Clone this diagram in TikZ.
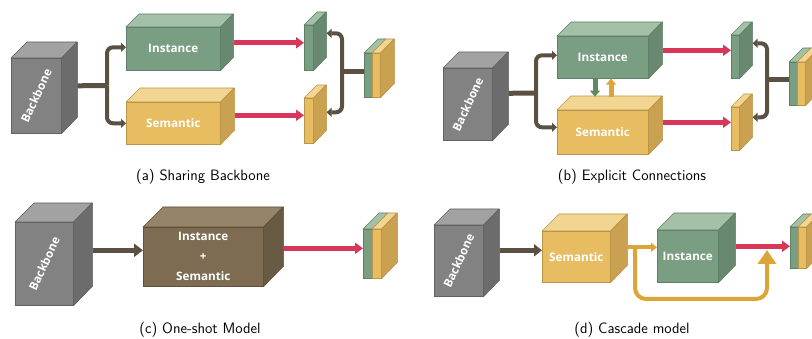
\documentclass[tikz,border=0pt]{standalone}
\usepackage{fontspec}
\newfontfamily\boxfont{Open Sans}
\usetikzlibrary{arrows.meta,calc}
\definecolor{bbF}{HTML}{828282}\definecolor{bbT}{HTML}{A2A2A2}\definecolor{bbS}{HTML}{6C6C6C}\definecolor{bbE}{HTML}{626262}
\definecolor{gnF}{HTML}{7A9E82}\definecolor{gnT}{HTML}{A4C1A8}\definecolor{gnS}{HTML}{68896F}\definecolor{gnE}{HTML}{5F7F66}
\definecolor{ylF}{HTML}{E8BD62}\definecolor{ylT}{HTML}{F1D590}\definecolor{ylS}{HTML}{C9A150}\definecolor{ylE}{HTML}{BB9547}
\definecolor{brF}{HTML}{7D6C52}\definecolor{brT}{HTML}{958468}\definecolor{brS}{HTML}{695A44}\definecolor{brE}{HTML}{5E503C}
\definecolor{redA}{HTML}{D8375A}
\definecolor{dkC}{HTML}{5B5142}
\definecolor{ylC}{HTML}{DBA53A}
\definecolor{gnC}{HTML}{5E8A63}
\newcommand{\cuboid}[8]{%
  \node[draw=#7E, fill=#7F, line width=0.6pt, inner sep=0pt, minimum width=#4pt, minimum height=#5pt, anchor=north west, boxtxt] (#1) at (#2,#3) {#8};
  \filldraw[draw=#7E, fill=#7T, line width=0.6pt, line join=round] (#1.north west) -- ++(#6,-#6) -- ++(#4,0) -- (#1.north east) -- cycle;
  \filldraw[draw=#7E, fill=#7S, line width=0.6pt, line join=round] (#1.north east) -- ++(#6,-#6) -- ++(0,#5) -- (#1.south east) -- cycle;
}
\tikzset{
  boxtxt/.style={text=white, font=\boxfont\bfseries\fontsize{11.7}{20}\selectfont, align=center},
  bbtxt/.style={text=white, font=\boxfont\bfseries\fontsize{11.7}{13}\selectfont, rotate=65},
  captxt/.style={font=\sffamily\fontsize{15}{18}\selectfont, anchor=base},
  dkc/.style={draw=dkC, line width=4pt, rounded corners=6pt},
  dkarr/.style={dkc, -{Triangle[length=5pt,width=9pt]}},
  redarr/.style={draw=redA, line width=5pt, -{Triangle[length=8pt,width=11pt]}},
}
\begin{document}
\begin{tikzpicture}[x=1pt,y=-1pt]
\useasboundingbox (0,0) rectangle (812,339);
% ===== (a) =====
\cuboid{bbA}{11}{58}{50}{75}{16}{bb}{}
\node[bbtxt] (bbAt) at (bbA) {Backbone};
\cuboid{instA}{126}{27}{94}{43}{13}{gn}{Instance}
\cuboid{semA}{126}{102}{94}{42}{14}{yl}{Semantic}
\cuboid{slabIA}{304}{25}{9}{45}{13}{gn}{}
\cuboid{slabSA}{304}{98}{9}{45}{13}{yl}{}
\cuboid{cgA}{364}{53}{8}{44}{14}{gn}{}
\cuboid{cyA}{372}{53}{8}{44}{14}{yl}{}
\coordinate (bbAr) at ($(bbA.east)+(16,-10)$);
\coordinate (jA) at (107,85.5);
\draw[dkc, line width=5pt] (bbAr) -- (jA);
\draw[dkarr] (jA) |- ($(instA.west)+(0,-1.5)$);
\draw[dkarr] (jA) |- (semA.west);
\draw[redarr] ($(instA.east)+(13,-6)$) coordinate (rA1) -- (rA1 -| slabIA.west);
\draw[redarr] ($(semA.east)+(14,-8)$) coordinate (rA2) -- (rA2 -| slabSA.west);
\coordinate (jA2) at (342,72);
\draw[dkc, line width=5pt] (jA2) -- (jA2 -| cgA.west);
\draw[dkarr] (jA2) |- ($(slabIA.east)+(13,-14.5)$);
\draw[dkarr] (jA2) |- ($(slabSA.east)+(13,-8.5)$);
\node[captxt] (capA) at (203,181) {(a) Sharing Backbone};
% ===== (b) =====
\cuboid{bbB}{443}{68}{49}{72}{16}{bb}{}
\node[bbtxt] (bbBt) at (bbB) {Backbone};
\cuboid{semB}{557}{110}{91}{44}{14}{yl}{Semantic}
\cuboid{instB}{557}{36}{91}{42}{14}{gn}{Instance}
\cuboid{slabIB}{731}{35}{8}{43}{13}{gn}{}
\cuboid{slabSB}{731}{107}{8}{43}{13}{yl}{}
\cuboid{cgB}{789}{62}{8}{43}{14}{gn}{}
\cuboid{cyB}{797}{62}{8}{43}{14}{yl}{}
\coordinate (bbBr) at ($(bbB.east)+(16,-11)$);
\coordinate (jB) at (536,93);
\draw[dkc, line width=5pt] (bbBr) -- (jB);
\draw[dkarr] (jB) |- ($(instB.west)+(0,-2)$);
\draw[dkarr] (jB) |- ($(semB.west)+(0,-5)$);
\draw[draw=gnC, line width=5pt, -{Triangle[length=6pt,width=10pt]}] ($(instB.south west)+(38,0)$) coordinate (gB) -- ++(0,18);
\draw[draw=ylC, line width=5pt, -{Triangle[length=6pt,width=10pt]}] ($(instB.south west)+(54,18)$) coordinate (yB) -- ++(0,-18);
\draw[redarr] ($(instB.east)+(14,-7)$) coordinate (rB1) -- (rB1 -| slabIB.west);
\draw[redarr] ($(semB.east)+(14,-10)$) coordinate (rB2) -- (rB2 -| slabSB.west);
\coordinate (jB2) at (767,80);
\draw[dkc, line width=5pt] (jB2) -- (jB2 -| cgB.west);
\draw[dkarr] (jB2) |- ($(slabIB.east)+(13,-13.5)$);
\draw[dkarr] (jB2) |- ($(slabSB.east)+(13,-11.5)$);
\node[captxt] (capB) at (632,181) {(b) Explicit Connections};
% ===== (c) =====
\cuboid{bbC}{15}{222}{58}{83}{19}{bb}{}
\node[bbtxt] (bbCt) at (bbC) {Backbone};
\cuboid{isC}{143}{227}{120}{59}{20}{br}{Instance\\+\\Semantic}
\cuboid{cgC}{363}{229}{9}{49}{16}{gn}{}
\cuboid{cyC}{372}{229}{9}{49}{16}{yl}{}
\draw[draw=dkC, line width=5pt, -{Triangle[length=9pt,width=13pt]}] ($(bbC.east)+(19,-13.5)$) coordinate (dC) -- (dC -| isC.west);
\draw[redarr] ($(isC.east)+(20,-8.5)$) coordinate (rC) -- (rC -| cgC.west);
\node[captxt] (capC) at (200,334) {(c) One-shot Model};
% ===== (d) =====
\cuboid{bbD}{434}{225}{49}{71}{16}{bb}{}
\node[bbtxt] (bbDt) at (bbD) {Backbone};
\cuboid{semD}{542}{231}{68}{51}{17}{yl}{Semantic}
\cuboid{instD}{657}{230}{61}{52}{17}{gn}{Instance}
\cuboid{cgD}{790}{227}{8}{41}{13}{gn}{}
\cuboid{cyD}{798}{227}{8}{41}{13}{yl}{}
\draw[draw=dkC, line width=5pt, -{Triangle[length=8pt,width=12pt]}] ($(bbD.east)+(16,-10.5)$) coordinate (dD) -- (dD -| semD.west);
\coordinate (brD) at (635,247);
\coordinate (yBot) at (700,299);
\coordinate (yTip) at (767,250);
\draw[draw=ylC, line width=4pt, rounded corners=11pt, -{Triangle[length=14pt,width=18pt]}] (brD) -- (brD |- yBot) -- (yTip |- yBot) -- (yTip);
\draw[draw=ylC, line width=4pt, -{Triangle[length=6pt,width=9pt]}] ($(semD.east)+(17,-9.5)$) coordinate (yD) -- (yD -| instD.west);
\draw[redarr] ($(instD.east)+(17,-10)$) coordinate (rD) -- (rD -| cgD.west);
\node[captxt] (capD) at (632,334) {(d) Cascade model};
\end{tikzpicture}
\end{document}
